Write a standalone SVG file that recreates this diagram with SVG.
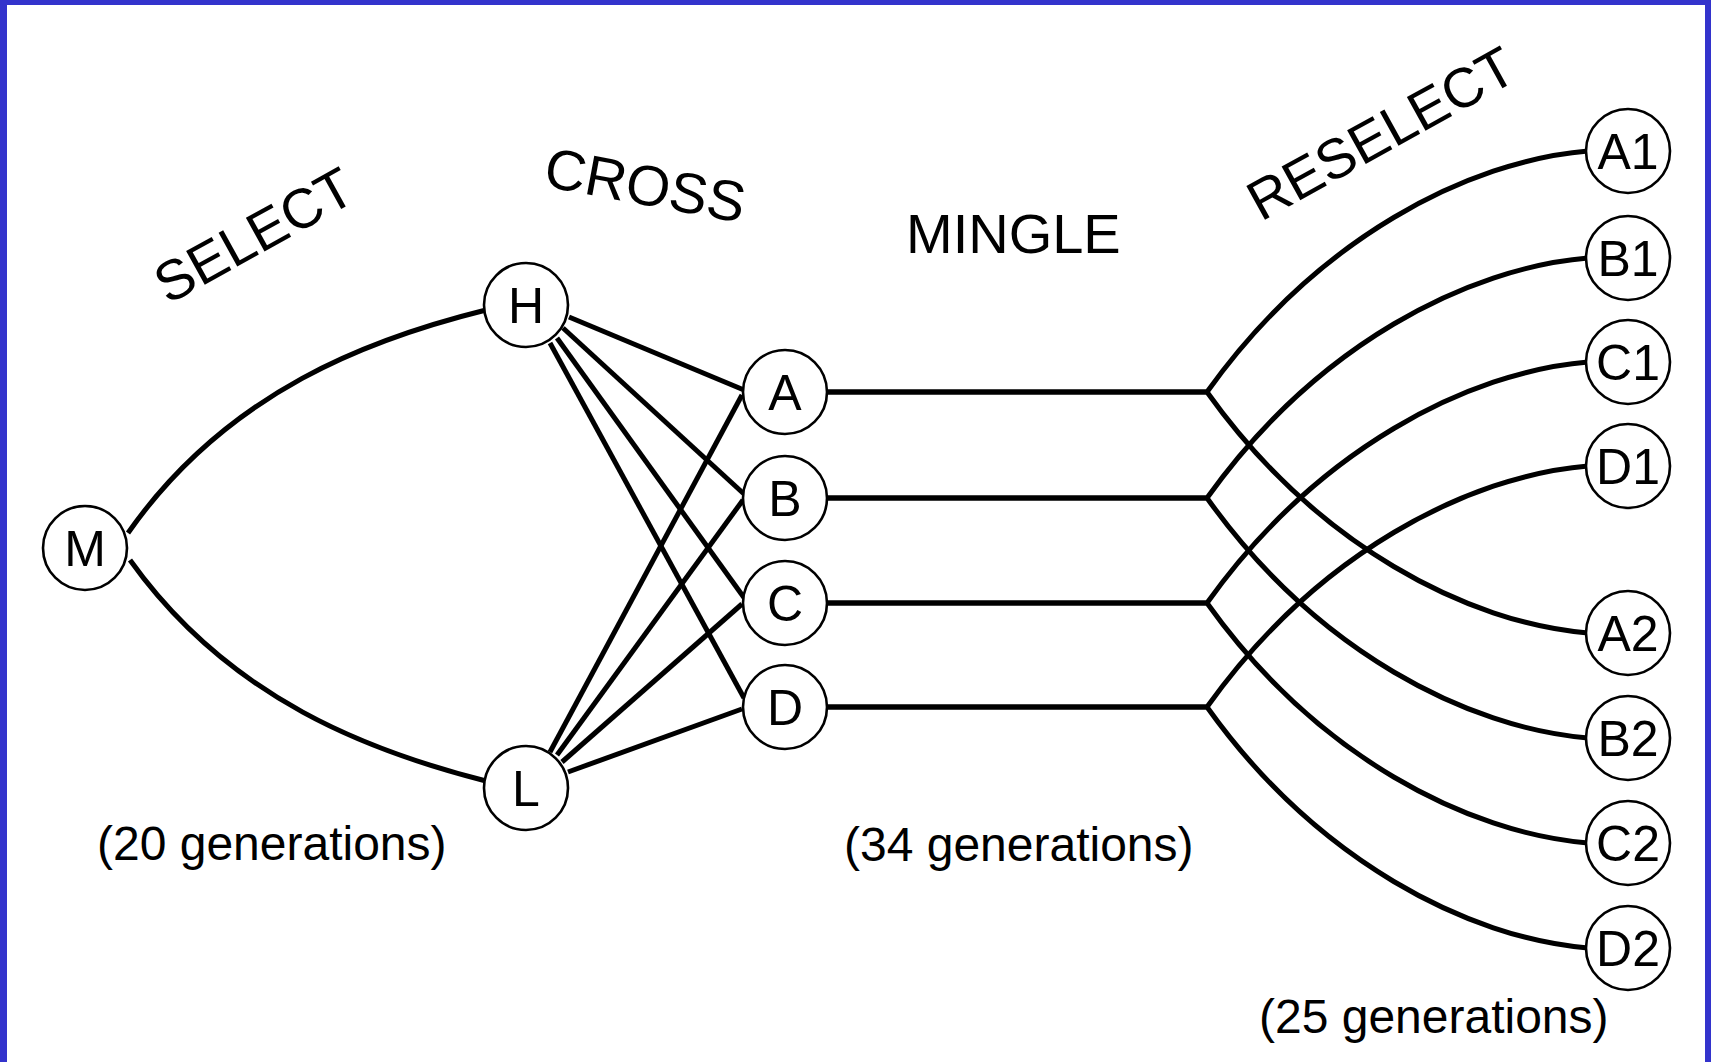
<svg xmlns="http://www.w3.org/2000/svg" width="1711" height="1062" viewBox="0 0 1711 1062">
  <style>
    .edge { fill: none; stroke: #000; stroke-width: 5; }
    .node circle { fill: #fff; stroke: #000; stroke-width: 2.6; }
    .node text { font-family: "Liberation Sans", Arial, sans-serif; font-size: 50px; text-anchor: middle; fill: #000; }
    .stage { font-family: "Liberation Sans", Arial, sans-serif; font-size: 56px; fill: #000; }
    .note { font-family: "Liberation Sans", Arial, sans-serif; font-size: 48px; fill: #000; }
  </style>

  <rect width="1711" height="1062" fill="#fff"/>

  <!-- frame -->
  <g id="frame" fill="#3333cc">
    <rect x="0" y="0" width="1711" height="5"/>
    <rect x="0" y="0" width="7" height="1062"/>
    <rect x="1705" y="0" width="6" height="1062"/>
  </g>

  <g id="connectors">
    <!-- select -->
    <path class="edge" d="M 128 533 C 228 390 373 338 486 310"/>
    <path class="edge" d="M 130 560 C 230 700 372 752 486 781"/>
    <!-- cross: H -->
    <line class="edge" x1="569" y1="317" x2="744" y2="390"/>
    <line class="edge" x1="563" y1="328" x2="744" y2="494"/>
    <line class="edge" x1="557" y1="338" x2="745" y2="599"/>
    <line class="edge" x1="550" y1="343" x2="744" y2="698"/>
    <!-- cross: L -->
    <line class="edge" x1="550" y1="752" x2="742" y2="395"/>
    <line class="edge" x1="557" y1="755" x2="743" y2="500"/>
    <line class="edge" x1="562" y1="762" x2="742" y2="604"/>
    <line class="edge" x1="568" y1="772" x2="742" y2="709"/>
    <!-- mingle and reselect -->
    <path class="edge" d="M 785 392 H 1207 C 1317 238 1468 161 1588 151"/>
    <path class="edge" d="M 785 392 H 1207 C 1317 546 1468 623 1588 633"/>
    <path class="edge" d="M 785 498 H 1207 C 1317 344 1468 268 1588 258"/>
    <path class="edge" d="M 785 498 H 1207 C 1317 652 1468 728 1588 738"/>
    <path class="edge" d="M 785 603 H 1207 C 1317 449 1468 372 1588 362"/>
    <path class="edge" d="M 785 603 H 1207 C 1317 757 1468 833 1588 843"/>
    <path class="edge" d="M 785 707 H 1207 C 1317 553 1468 476 1588 466"/>
    <path class="edge" d="M 785 707 H 1207 C 1317 861 1468 938 1588 948"/>
  </g>

  <g id="node-M" class="node"><circle cx="85" cy="548" r="42"/><text x="85" y="566">M</text></g>
  <g id="node-H" class="node"><circle cx="526" cy="305" r="42"/><text x="526" y="323">H</text></g>
  <g id="node-L" class="node"><circle cx="526" cy="788" r="42"/><text x="526" y="806">L</text></g>

  <g id="node-A" class="node"><circle cx="785" cy="392" r="42"/><text x="785" y="410">A</text></g>
  <g id="node-B" class="node"><circle cx="785" cy="498" r="42"/><text x="785" y="516">B</text></g>
  <g id="node-C" class="node"><circle cx="785" cy="603" r="42"/><text x="785" y="621">C</text></g>
  <g id="node-D" class="node"><circle cx="785" cy="707" r="42"/><text x="785" y="725">D</text></g>

  <g id="node-A1" class="node"><circle cx="1628" cy="151" r="42"/><text x="1628" y="169">A1</text></g>
  <g id="node-B1" class="node"><circle cx="1628" cy="258" r="42"/><text x="1628" y="276">B1</text></g>
  <g id="node-C1" class="node"><circle cx="1628" cy="362" r="42"/><text x="1628" y="380">C1</text></g>
  <g id="node-D1" class="node"><circle cx="1628" cy="466" r="42"/><text x="1628" y="484">D1</text></g>
  <g id="node-A2" class="node"><circle cx="1628" cy="633" r="42"/><text x="1628" y="651">A2</text></g>
  <g id="node-B2" class="node"><circle cx="1628" cy="738" r="42"/><text x="1628" y="756">B2</text></g>
  <g id="node-C2" class="node"><circle cx="1628" cy="843" r="42"/><text x="1628" y="861">C2</text></g>
  <g id="node-D2" class="node"><circle cx="1628" cy="948" r="42"/><text x="1628" y="966">D2</text></g>

  <g id="labels">
    <text class="stage" transform="translate(168 305) rotate(-29)">SELECT</text>
    <text class="stage" transform="translate(542 186) rotate(10.5)" style="font-size:57px">CROSS</text>
    <text class="stage" x="906" y="253">MINGLE</text>
    <text class="stage" transform="translate(1261 222) rotate(-29)">RESELECT</text>
    <text class="note" x="97" y="860">(20 generations)</text>
    <text class="note" x="844" y="861">(34 generations)</text>
    <text class="note" x="1259" y="1033">(25 generations)</text>
  </g>
</svg>
